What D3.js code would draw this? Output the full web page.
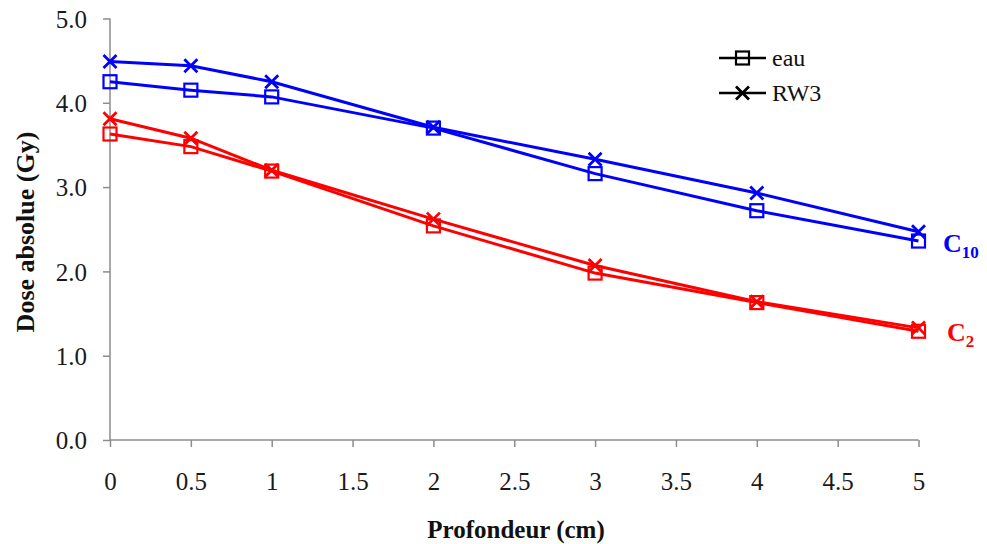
<!DOCTYPE html>
<html>
<head>
<meta charset="utf-8">
<script src="https://cdn.jsdelivr.net/npm/d3@7"></script>
<style>
  html, body { margin: 0; padding: 0; background: #fff; }
  svg { display: block; }
  svg text { font-family: "Liberation Serif", "Times New Roman", serif; }
</style>
</head>
<body>
<svg id="chart" width="987" height="544"></svg>
<script>
// ---- Data ----
const depths = [0, 0.5, 1, 2, 3, 4, 5];
const xTicks = [0, 0.5, 1, 1.5, 2, 2.5, 3, 3.5, 4, 4.5, 5];
const xTickLabels = ["0", "0.5", "1", "1.5", "2", "2.5", "3", "3.5", "4", "4.5", "5"];
const yTicks = [0, 1, 2, 3, 4, 5];
const c10Eau = [4.25, 4.15, 4.07, 3.70, 3.16, 2.72, 2.36];
const c10RW3 = [4.49, 4.44, 4.25, 3.71, 3.33, 2.93, 2.47];
const c2Eau  = [3.63, 3.48, 3.19, 2.54, 1.98, 1.63, 1.29];
const c2RW3  = [3.81, 3.58, 3.20, 2.62, 2.07, 1.64, 1.33];
const legendLabels = ["eau", "RW3"];
const xTitle = "Profondeur (cm)";
const yTitle = "Dose absolue (Gy)";

const series = [
  { values: c10Eau, color: "#0000ff", marker: "square" },
  { values: c10RW3, color: "#0000ff", marker: "cross" },
  { values: c2Eau,  color: "#ff0000", marker: "square" },
  { values: c2RW3,  color: "#ff0000", marker: "cross" }
];

// ---- Layout ----
const svg = d3.select("#chart");
const x = d3.scaleLinear().domain([0, 5]).range([110, 918.5]);
const y = d3.scaleLinear().domain([0, 5]).range([440, 18.5]);
const serif = "Liberation Serif";
const axisColor = "#8c8c8c";

// Axes
const xAxis = svg.append("g").attr("transform", "translate(0,440)")
  .call(d3.axisBottom(x).tickValues(xTicks).tickSize(7).tickFormat((d, i) => xTickLabels[i]));
const yAxis = svg.append("g").attr("transform", "translate(110,0)")
  .call(d3.axisLeft(y).tickValues(yTicks).tickSize(7).tickFormat(d3.format(".1f")));

[xAxis, yAxis].forEach(g => {
  g.attr("font-family", serif).attr("font-size", 25);
  g.select(".domain").attr("stroke", axisColor).attr("stroke-width", 1.5);
  g.selectAll(".tick line").attr("stroke", axisColor).attr("stroke-width", 1.5);
  g.selectAll(".tick text").attr("fill", "#1a1a1a");
});
xAxis.select(".domain").attr("d", "M110,0H918.5");
yAxis.select(".domain").attr("d", "M0,440V18.5");
xAxis.selectAll(".tick text").attr("y", 0).attr("dy", "0").attr("transform", "translate(0,50)");
yAxis.selectAll(".tick text").attr("x", -23).attr("dy", "0.35em");

// Titles
svg.append("text")
  .attr("x", 516).attr("y", 538)
  .attr("text-anchor", "middle")
  .attr("font-family", serif).attr("font-size", 25).attr("font-weight", "bold")
  .attr("fill", "#111").text(xTitle);
svg.append("text")
  .attr("transform", "translate(34,232) rotate(-90)")
  .attr("text-anchor", "middle")
  .attr("font-family", serif).attr("font-size", 26).attr("font-weight", "bold")
  .attr("fill", "#111").text(yTitle);

// Markers
function drawMarker(g, type, cx, cy, color) {
  if (type === "square") {
    g.append("rect").attr("x", cx - 6.5).attr("y", cy - 6.5)
      .attr("width", 13).attr("height", 13)
      .attr("fill", "none").attr("stroke", color).attr("stroke-width", 2.2);
  } else {
    const s = 6.5;
    g.append("path")
      .attr("d", `M${cx - s},${cy - s}L${cx + s},${cy + s}M${cx - s},${cy + s}L${cx + s},${cy - s}`)
      .attr("stroke", color).attr("stroke-width", 2.8).attr("fill", "none");
  }
}

// Lines
const line = d3.line().x((d, i) => x(depths[i])).y(d => y(d));
series.forEach(s => {
  const g = svg.append("g");
  g.append("path").datum(s.values)
    .attr("d", line)
    .attr("fill", "none").attr("stroke", s.color).attr("stroke-width", 3);
  s.values.forEach((v, i) => drawMarker(g, s.marker, x(depths[i]), y(v), s.color));
});

// Legend
const legend = svg.append("g");
const legendMarkers = ["square", "cross"];
legendLabels.forEach((lab, i) => {
  const ly = 58 + i * 35;
  legend.append("line").attr("x1", 719).attr("x2", 766).attr("y1", ly).attr("y2", ly)
    .attr("stroke", "#000").attr("stroke-width", 2.5);
  drawMarker(legend, legendMarkers[i], 742.5, ly, "#000");
  legend.append("text").attr("x", 772).attr("y", ly).attr("dy", "0.35em")
    .attr("font-family", serif).attr("font-size", 24).attr("fill", "#111").text(lab);
});

// Curve labels
function curveLabel(xp, yp, sub, color) {
  const t = svg.append("text").attr("x", xp).attr("y", yp)
    .attr("font-family", serif).attr("font-weight", "bold").attr("fill", color);
  t.append("tspan").attr("font-size", 26).text("C");
  t.append("tspan").attr("font-size", 17).attr("dy", 6).text(sub);
}
curveLabel(943, 252, "10", "#0000ff");
curveLabel(947, 341, "2", "#ff0000");
</script>
</body>
</html>
